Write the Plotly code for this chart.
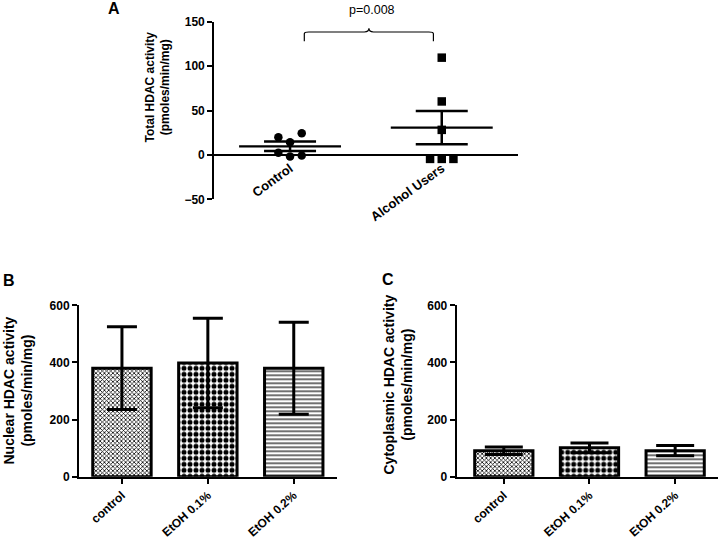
import plotly.graph_objects as go

W, H = 718, 540
FONT = "Liberation Sans, Arial, sans-serif"

# ---------------- Panel A data ----------------
a_groups = ["Control", "Alcohol Users"]
control_vals = [19.9, 24.4, 14.2, 2.3, -1.9, -0.8]
alcohol_vals = [109.5, 60.2, 28.2, -4.5, -4.5, -4.5]
a_means = [9.7, 30.7]
a_sems = [5.3, 18.8]
a_yticks = [-50, 0, 50, 100, 150]
p_text = "p=0.008"

# ---------------- Panel B / C data ----------------
bc_cats = ["control", "EtOH 0.1%", "EtOH 0.2%"]
nuc_means = [380, 398, 380]
nuc_err = [145, 157, 161]
cyt_means = [91, 101, 91]
cyt_err = [13, 17, 18]
bc_yticks = [0, 200, 400, 600]

# swarm slots (layout, not data)
ctrl_slots = [-1, 1, 0, -1, 0, 1]
alc_slots = [0, 0, 0, -1, 0, 1]
SLOT = 0.077


def px_x(p):
    return p / W


def px_y(p):
    return 1 - p / H


fig = go.Figure()

# --- Panel A points
fig.add_trace(go.Scatter(
    x=[0 + s * SLOT for s in ctrl_slots], y=control_vals, mode="markers",
    marker=dict(symbol="circle", size=8.5, color="black"),
    xaxis="x", yaxis="y", showlegend=False, cliponaxis=False))
fig.add_trace(go.Scatter(
    x=[1 + s * SLOT for s in alc_slots], y=alcohol_vals, mode="markers",
    marker=dict(symbol="square", size=8.5, color="black"),
    xaxis="x", yaxis="y", showlegend=False, cliponaxis=False))

# mean lines
HALF = 0.336
for i, m in enumerate(a_means):
    fig.add_trace(go.Scatter(
        x=[i - HALF, i + HALF], y=[m, m], mode="lines",
        line=dict(color="black", width=2.2),
        xaxis="x", yaxis="y", showlegend=False, cliponaxis=False))
# SEM
fig.add_trace(go.Scatter(
    x=[0, 1], y=a_means, mode="markers", marker=dict(size=1, color="rgba(0,0,0,0)"),
    error_y=dict(type="data", array=a_sems, visible=True, color="black",
                 thickness=2.5, width=26),
    xaxis="x", yaxis="y", showlegend=False, cliponaxis=False))

# --- Panel B / C bars
patterns = [
    dict(shape="x", size=3, solidity=0.45, fgcolor="black", bgcolor="white"),
    dict(shape=".", size=6, solidity=0.55, fgcolor="black", bgcolor="white"),
    dict(shape="-", size=4, solidity=0.35, fgcolor="#333", bgcolor="white"),
]
for xa, ya, means, errs, capw in [("x2", "y2", nuc_means, nuc_err, 15),
                                  ("x3", "y3", cyt_means, cyt_err, 19)]:
    for i, c in enumerate(bc_cats):
        fig.add_trace(go.Bar(
            x=[c], y=[means[i]], width=0.68,
            marker=dict(color="white", line=dict(color="black", width=3),
                        pattern=patterns[i]),
            error_y=dict(type="data", array=[errs[i]], visible=True,
                         color="black", thickness=3, width=capw),
            xaxis=xa, yaxis=ya, showlegend=False))

tickfont = dict(family=FONT, size=12, color="black", weight="bold")
catfont_a = dict(family=FONT, size=13, color="black", weight="bold")
catfont = dict(family=FONT, size=12, color="black", weight="bold")

ya_dom = [px_y(199.3), px_y(21.7)]
zero_pos = ya_dom[0] + (0 - (-50)) / 200 * (ya_dom[1] - ya_dom[0])
bc_ydom = [px_y(476.7), px_y(305.3)]

common = dict(showline=True, linecolor="black", linewidth=2,
              showgrid=False, zeroline=False, automargin=False)
yticks_style = dict(ticks="outside", ticklen=5, tickwidth=2, tickcolor="black")

fig.update_layout(
    template="none",
    width=W, height=H, autosize=False,
    margin=dict(l=0, r=0, t=0, b=0, pad=0),
    paper_bgcolor="white", plot_bgcolor="white",
    font=dict(family=FONT, color="black"),
    xaxis=dict(domain=[px_x(214.2), px_x(517.6)], range=[-0.5, 1.5],
               anchor="free", position=zero_pos,
               tickmode="array", tickvals=[0, 1], ticktext=a_groups,
               tickangle=-36, tickfont=catfont_a, ticks="", **common),
    yaxis=dict(domain=ya_dom, range=[-50, 150], anchor="x",
               tickmode="array", tickvals=a_yticks, tickfont=tickfont,
               **yticks_style, **common),
    xaxis2=dict(domain=[px_x(79), px_x(336.7)], range=[-0.5, 2.5], anchor="y2",
                type="category", categoryorder="array", categoryarray=bc_cats,
                tickangle=-42, tickfont=catfont, **yticks_style, **common),
    yaxis2=dict(domain=bc_ydom, range=[0, 600], anchor="x2",
                tickmode="array", tickvals=bc_yticks, tickfont=tickfont,
                **yticks_style, **common),
    xaxis3=dict(domain=[px_x(456.7), 1.0], range=[-0.55, 2.5], anchor="y3",
                type="category", categoryorder="array", categoryarray=bc_cats,
                tickangle=-42, tickfont=catfont, **yticks_style, **common),
    yaxis3=dict(domain=bc_ydom, range=[0, 600], anchor="x3",
                tickmode="array", tickvals=bc_yticks, tickfont=tickfont,
                **yticks_style, **common),
)

# significance bracket (data coords of panel A)
x0, x1, xm = 0.094, 0.945, 0.52
yb, yh, yp = 128, 138.4, 142.5
fig.add_shape(type="path", xref="x", yref="y",
              path=f"M {x0},{yb} L {x0},{yh-2} Q {x0},{yh} {x0+0.03},{yh} "
                   f"L {xm-0.03},{yh} Q {xm},{yh} {xm},{yp} "
                   f"Q {xm},{yh} {xm+0.03},{yh} L {x1-0.03},{yh} "
                   f"Q {x1},{yh} {x1},{yh-2} L {x1},{yb}",
              line=dict(color="black", width=1.2))

title_font_a = dict(family=FONT, size=12, color="black", weight="bold")
title_font = dict(family=FONT, size=14, color="black", weight="bold")
ann = [
    dict(text="A", x=px_x(114), y=px_y(8), font=dict(family=FONT, size=16, weight="bold")),
    dict(text="B", x=px_x(9), y=px_y(280), font=dict(family=FONT, size=16, weight="bold")),
    dict(text="C", x=px_x(388), y=px_y(279), font=dict(family=FONT, size=16, weight="bold")),
    dict(text=p_text, x=px_x(372), y=px_y(10), font=dict(family=FONT, size=12.5)),
    dict(text="Total HDAC activity<br>(pmoles/min/mg)", x=px_x(157.5), y=px_y(87),
         textangle=-90, font=title_font_a),
    dict(text="Nuclear HDAC activity<br>(pmoles/min/mg)", x=px_x(17.5), y=px_y(391),
         textangle=-90, font=title_font),
    dict(text="Cytoplasmic HDAC activity<br>(pmoles/min/mg)", x=px_x(397.5), y=px_y(385),
         textangle=-90, font=title_font),
]
for a in ann:
    a.update(xref="paper", yref="paper", showarrow=False,
             xanchor="center", yanchor="middle")
    a["font"].setdefault("color", "black")
    fig.add_annotation(**a)

# remove the browser's default 8px body margin so the figure fills the window
fig.write_html("out.html",
               config={"displayModeBar": False},
               post_script="document.body.style.margin='0';"
                           "document.body.style.overflow='hidden';")
